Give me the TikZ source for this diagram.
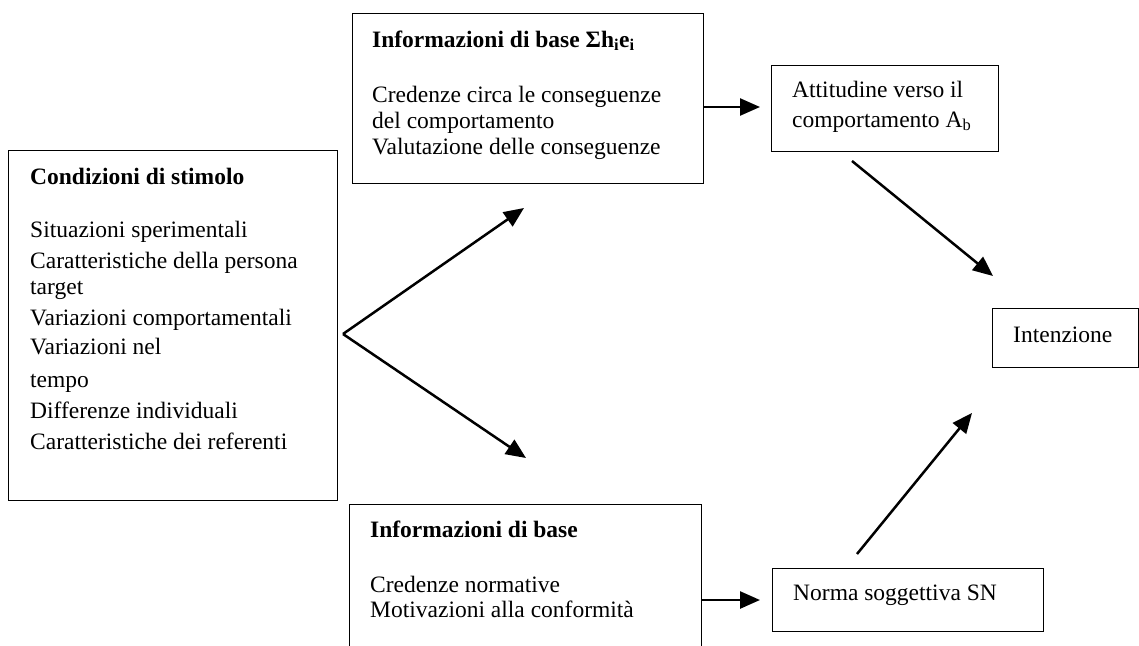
\documentclass[tikz,border=0pt]{standalone}
\usepackage{fontspec}
\setmainfont{Liberation Serif}
\usetikzlibrary{arrows.meta}
\tikzset{
  boxnode/.style={draw=black, line width=1pt, rectangle, inner sep=0pt, anchor=north west},
  txt/.style={anchor=base west, inner sep=0pt, font=\fontsize{23.5}{26}\selectfont},
  conn/.style={line width=2.5pt, -{Triangle[length=20pt,width=17pt]}}
}
\begin{document}
\begin{tikzpicture}[x=1pt,y=-1pt]
\useasboundingbox (0,0) rectangle (1139,645);
\clip (0,0) rectangle (1139,645);
% boxes
\node[boxnode, minimum width=329pt, minimum height=350pt] (cond) at (8,150) {};
\node[boxnode, minimum width=351pt, minimum height=170pt] (infoA) at (352,13) {};
\node[boxnode, minimum width=352pt, minimum height=160pt] (infoB) at (349,504) {};
\node[boxnode, minimum width=227pt, minimum height=86pt] (att) at (771,65) {};
\node[boxnode, minimum width=146pt, minimum height=59pt] (int) at (992,308) {};
\node[boxnode, minimum width=271pt, minimum height=63pt] (sn) at (772,568) {};
% texts left box
\node[txt] (c0) at (30,184) {\textbf{Condizioni di stimolo}};
\node[txt] (c1) at (30,237) {Situazioni sperimentali};
\node[txt] (c2) at (30,268) {Caratteristiche della persona};
\node[txt] (c3) at (30,294) {target};
\node[txt] (c4) at (30,325) {Variazioni comportamentali};
\node[txt] (c5) at (30,354) {Variazioni nel};
\node[txt] (c6) at (30,387) {tempo};
\node[txt] (c7) at (30,418) {Differenze individuali};
\node[txt] (c8) at (30,449) {Caratteristiche dei referenti};
% top box
\node[txt] (a0) at (372,47) {\textbf{Informazioni di base Σh\textsubscript{i}e\textsubscript{i}}};
\node[txt] (a1) at (372,102) {Credenze circa le conseguenze};
\node[txt] (a2) at (372,128) {del comportamento};
\node[txt] (a3) at (372,154) {Valutazione delle conseguenze};
% bottom box
\node[txt] (b0) at (370,537) {\textbf{Informazioni di base}};
\node[txt] (b1) at (370,592) {Credenze normative};
\node[txt] (b2) at (370,617) {Motivazioni alla conformità};
% attitude
\node[txt] (t1) at (792,97) {Attitudine verso il};
\node[txt] (t2) at (792,127) {comportamento A\textsubscript{b}};
% intention
\node[txt] (i1) at (1013,342) {Intenzione};
% norm
\node[txt] (n1) at (793,600) {Norma soggettiva SN};
% connector ends
\coordinate (fork) at (343,334);
\coordinate (forkUp) at (524,208);
\coordinate (forkDn) at (526,458);
\coordinate (aOut) at (703,107);
\coordinate (attIn) at (760,107);
\coordinate (bOut) at (701,600);
\coordinate (snIn) at (760,600);
\coordinate (attOut) at (852,161);
\coordinate (intInA) at (993,276);
\coordinate (snOut) at (857,554);
\coordinate (intInB) at (972,413);
\draw[conn] (fork) -- (forkUp);
\draw[conn] (fork) -- (forkDn);
\draw[conn] (aOut) -- (attIn);
\draw[conn] (bOut) -- (snIn);
\draw[conn] (attOut) -- (intInA);
\draw[conn] (snOut) -- (intInB);
\end{tikzpicture}
\end{document}
